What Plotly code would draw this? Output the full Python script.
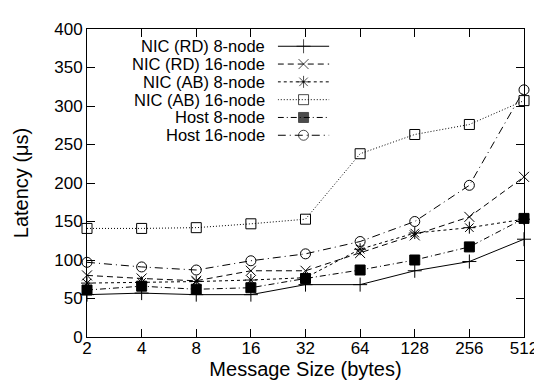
import math
import plotly.graph_objects as go

sizes = [2, 4, 8, 16, 32, 64, 128, 256, 512]
size_labels = ["2", "4", "8", "16", "32", "64", "128", "256", "512"]

nic_rd_8 = [55, 57, 55, 55, 68, 68, 86, 98, 127]
nic_rd_16 = [80, 76, 73, 86, 86, 109, 132, 156, 208]
nic_ab_8 = [70, 71, 72, 74, 77, 114, 135, 142, 153]
nic_ab_16 = [141, 141, 142, 147, 153, 238, 263, 276, 307]
host_8 = [61, 66, 62, 64, 76, 87, 100, 117, 154]
host_16 = [97, 91, 87, 99, 108, 124, 150, 197, 321]

series_names = ["NIC (RD) 8-node", "NIC (RD) 16-node", "NIC (AB) 8-node",
                "NIC (AB) 16-node", "Host 8-node", "Host 16-node"]
series_values = [nic_rd_8, nic_rd_16, nic_ab_8, nic_ab_16, host_8, host_16]

dashes = ["solid", "6px,4px", "3px,3px", "1px,2px", "6px,3px,1px,3px", "8px,4px,1px,4px"]
symbols = ["cross-thin-open", "x-thin-open", "asterisk-open", "square-open", "square", "circle-open"]
msizes = [10, 10, 10, 10, 10, 10]

FONT = "Liberation Sans, Arial, sans-serif"

fig = go.Figure()
for name, vals, d, s, ms in zip(series_names, series_values, dashes, symbols, msizes):
    fig.add_trace(go.Scatter(
        x=sizes, y=vals, mode="lines+markers", name=name,
        line=dict(color="black", width=1, dash=d),
        marker=dict(symbol=s, size=ms, color="black",
                    line=dict(color="black", width=1)),
        cliponaxis=False, showlegend=False,
    ))

# custom legend (text right-aligned, sample to its right)
leg_top = 0.944
leg_step = 0.0578
for i, (name, d, s, ms) in enumerate(zip(series_names, dashes, symbols, msizes)):
    yy = leg_top - i * leg_step
    fig.add_trace(go.Scatter(
        x=[0, 0.5, 1], y=[yy, yy, yy], mode="lines+markers",
        xaxis="x2", yaxis="y2",
        line=dict(color="black", width=1, dash=d),
        marker=dict(symbol=s, size=[0, ms, 0], color="black",
                    line=dict(color="black", width=1)),
        showlegend=False, hoverinfo="skip", cliponaxis=False,
    ))
    fig.add_annotation(x=0.411, y=yy, xref="paper", yref="paper",
                       text=name, showarrow=False, xanchor="right",
                       yanchor="middle", font=dict(size=16.5, color="black", family=FONT))

eps = 1e-6
fig.update_layout(
    width=542, height=390,
    margin=dict(l=77, r=16, t=13, b=61),
    paper_bgcolor="white", plot_bgcolor="rgba(0,0,0,0)",
    font=dict(family=FONT, size=17, color="black"),
    xaxis=dict(
        type="log", range=[math.log10(2) - eps, math.log10(512) + eps],
        tickvals=sizes, ticktext=size_labels,
        ticks="inside", ticklen=8, tickcolor="black",
        ticklabelstandoff=-4,
        showline=True, linecolor="black", linewidth=1, mirror="allticks",
        showgrid=False, zeroline=False,
        title=dict(text="Message Size (bytes)", standoff=0),
    ),
    yaxis=dict(
        range=[0, 400], tick0=0, dtick=50,
        ticks="inside", ticklen=8, tickcolor="black",
        showline=True, linecolor="black", linewidth=1, mirror="allticks",
        showgrid=False, zeroline=False,
        title=dict(text="Latency (μs)", standoff=20),
    ),
    xaxis2=dict(domain=[0.4365, 0.5546], range=[0, 1], visible=False, anchor="y2"),
    yaxis2=dict(domain=[0, 1], range=[0, 1], visible=False, anchor="x2"),
)

fig.write_html("out.html")
